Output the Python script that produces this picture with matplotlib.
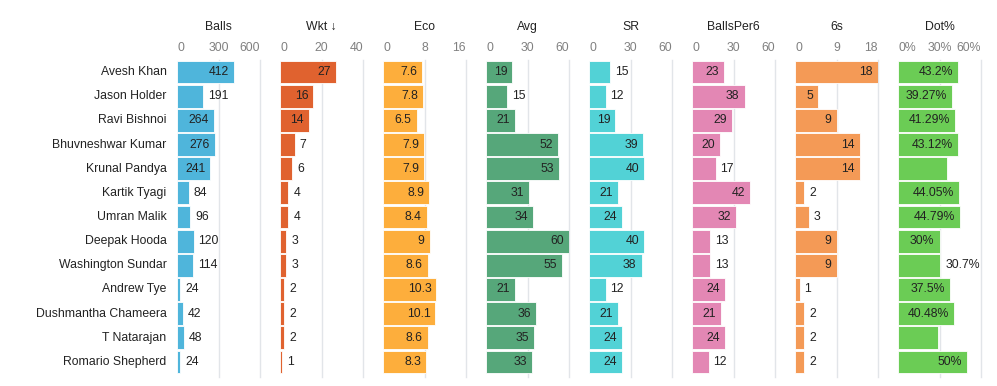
import matplotlib
matplotlib.use('Agg')
import matplotlib.pyplot as plt
from matplotlib.transforms import blended_transform_factory

plt.rcParams['font.family'] = ['Liberation Sans', 'DejaVu Sans']

# players, top to bottom
players = ['Avesh Khan', 'Jason Holder', 'Ravi Bishnoi', 'Bhuvneshwar Kumar',
           'Krunal Pandya', 'Kartik Tyagi', 'Umran Malik', 'Deepak Hooda',
           'Washington Sundar', 'Andrew Tye', 'Dushmantha Chameera',
           'T Natarajan', 'Romario Shepherd']

balls = [412, 191, 264, 276, 241, 84, 96, 120, 114, 24, 42, 48, 24]
wkt = [27, 16, 14, 7, 6, 4, 4, 3, 3, 2, 2, 2, 1]
eco = [7.6, 7.8, 6.5, 7.9, 7.9, 8.9, 8.4, 9, 8.6, 10.3, 10.1, 8.6, 8.3]
avg = [19, 15, 21, 52, 53, 31, 34, 60, 55, 21, 36, 35, 33]
sr = [15, 12, 19, 39, 40, 21, 24, 40, 38, 12, 21, 24, 24]
balls_per6 = [23, 38, 29, 20, 17, 42, 32, 13, 13, 24, 21, 24, 12]
sixes = [18, 5, 9, 14, 14, 2, 3, 9, 9, 1, 2, 2, 2]
dot_pct = [43.2, 39.27, 41.29, 43.12, 35.2, 44.05, 44.79, 30, 30.7, 37.5, 40.48, 29.1, 50]
# labels that the chart leaves out
dot_labels = ['43.2%', '39.27%', '41.29%', '43.12%', '', '44.05%', '44.79%',
              '30%', '30.7%', '37.5%', '40.48%', '', '50%']

panels = [
    ('Balls', balls, [0, 300, 600], ['0', '300', '600'], '#4fb5db'),
    ('Wkt \u2193', wkt, [0, 20, 40], ['0', '20', '40'], '#e0622f'),
    ('Eco', eco, [0, 8, 16], ['0', '8', '16'], '#fdae3c'),
    ('Avg', avg, [0, 30, 60], ['0', '30', '60'], '#56a77a'),
    ('SR', sr, [0, 30, 60], ['0', '30', '60'], '#52d2d6'),
    ('BallsPer6', balls_per6, [0, 30, 60], ['0', '30', '60'], '#e387b4'),
    ('6s', sixes, [0, 9, 18], ['0', '9', '18'], '#f49a56'),
    ('Dot%', dot_pct, [0, 30, 60], ['0%', '30%', '60%'], '#6bcc55'),
]

W, H = 997, 386
fig = plt.figure(figsize=(W / 100, H / 100), dpi=100)
renderer = fig.canvas.get_renderer()

left0, step, pw = 177, 103, 83
top, bottom = 60, 374
fs = 8.8

for i, (title, vals, ticks, tlabels, color) in enumerate(panels):
    ax = fig.add_axes([(left0 + i * step) / W, (H - bottom) / H,
                       pw / W, (bottom - top) / H])
    n = len(vals)
    ax.barh(range(n), vals, height=0.94, color=color,
            edgecolor='white', linewidth=0.6, zorder=2)
    ax.set_xlim(0, ticks[-1])
    ax.set_ylim(n - 0.5, -0.5)
    for s in ax.spines.values():
        s.set_visible(False)
    ax.set_yticks([])
    ax.set_xticks([])
    for t in ticks[1:]:
        ax.axvline(t, ymin=-0.01, ymax=1.0, color='#e2e5e9', lw=1, zorder=1,
                   clip_on=False)

    tr = blended_transform_factory(ax.transData, ax.transAxes)
    for j, (t, lab) in enumerate(zip(ticks, tlabels)):
        ha = 'left' if j == 0 else ('right' if j == len(ticks) - 1 else 'center')
        ax.text(t, 1.0, lab, transform=tr, ha=ha, va='center', fontsize=fs,
                color='#808080')
        ax.texts[-1].set_y(1 + 12 / (bottom - top))
    ax.text(0.5, 1 + 33 / (bottom - top), title, transform=ax.transAxes,
            ha='center', va='center', fontsize=fs, color='#222222')

    if title == 'Dot%':
        labels = dot_labels
    else:
        labels = ['{:g}'.format(v) for v in vals]

    for j, (v, lab) in enumerate(zip(vals, labels)):
        if not lab:
            continue
        bar_px = v / ticks[-1] * pw
        txt = ax.annotate(lab, (v, j), xytext=(-3.6, 0),
                          textcoords='offset points', ha='right', va='center',
                          fontsize=fs, color='#222222', zorder=3)
        tw = txt.get_window_extent(renderer).width
        if tw + 11 > bar_px:
            txt.set_ha('left')
            txt.xyann = (3.6, 0)

    if i == 0:
        for j, name in enumerate(players):
            ax.annotate(name, (0, j), xytext=(-7.5, 0),
                        textcoords='offset points', ha='right', va='center',
                        fontsize=fs, color='#222222')

fig.savefig('out.png', dpi=100)
